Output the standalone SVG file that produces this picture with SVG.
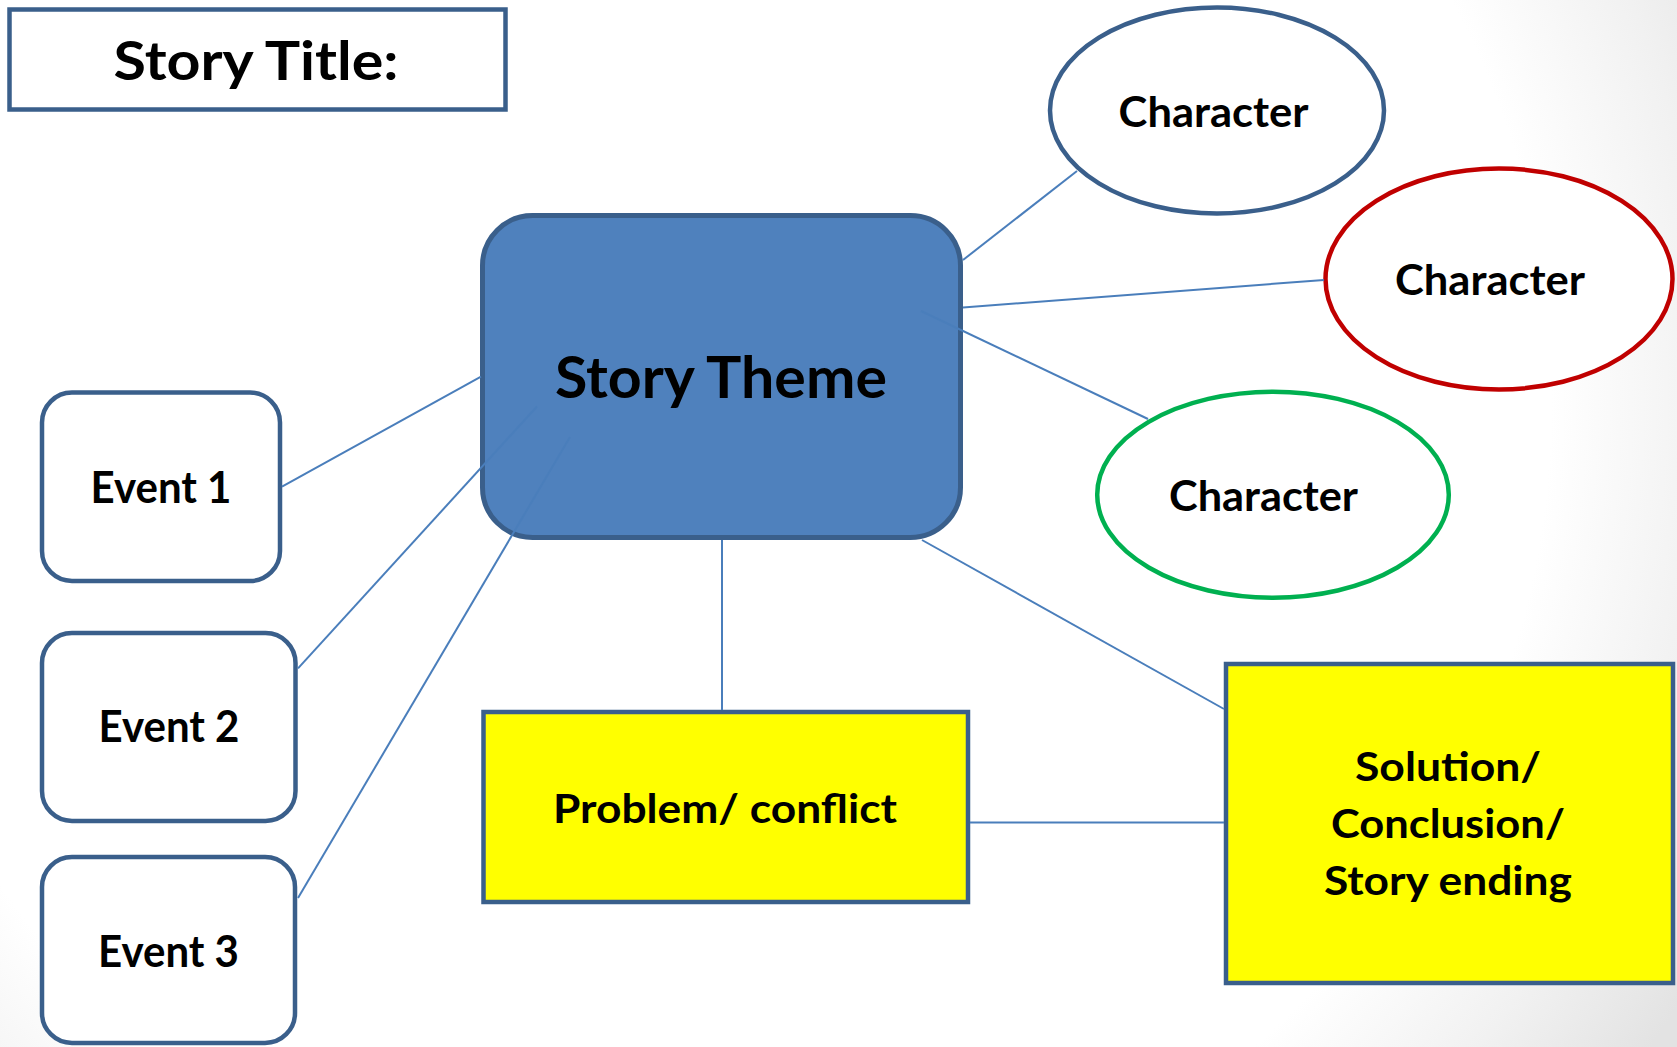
<svg xmlns="http://www.w3.org/2000/svg" width="1677" height="1047" viewBox="0 0 1677 1047">
<defs>
<radialGradient id="bg" gradientUnits="userSpaceOnUse" cx="700" cy="400" r="1150">
<stop offset="0" stop-color="#ffffff"/>
<stop offset="0.74" stop-color="#ffffff"/>
<stop offset="0.88" stop-color="#f1f1f1"/>
<stop offset="1" stop-color="#e3e3e3"/>
</radialGradient>
</defs>
<style>
.t{font-family:Lato,"Open Sans","Liberation Sans",sans-serif;font-weight:bold;fill:#000;text-anchor:middle}
.box{fill:#fff;stroke:#3A5F8B;stroke-width:4.5}
.yel{fill:#FFFF00;stroke:#3A5F8B;stroke-width:4.5}
.con{stroke:#4A7EBB;stroke-width:2;fill:none}
</style>
<rect width="1677" height="1047" fill="url(#bg)"/>
<g id="title">
<rect class="box" x="9.5" y="9.5" width="496" height="100" stroke-width="5"/>
<text class="t" x="256" y="80" font-size="53" textLength="285" lengthAdjust="spacingAndGlyphs">Story Title:</text>
</g>
<g id="theme">
<rect x="482.5" y="215.5" width="478" height="322" rx="50" fill="#4F81BD" stroke="#3A5F8B" stroke-width="5"/>
<text class="t" x="721" y="398" font-size="58" textLength="332" lengthAdjust="spacingAndGlyphs">Story Theme</text>
</g>
<g id="char1">
<ellipse class="box" cx="1217" cy="110.5" rx="167" ry="103"/>
<text class="t" x="1213.6" y="126.7" font-size="42" textLength="190" lengthAdjust="spacingAndGlyphs">Character</text>
</g>
<g id="char2">
<ellipse cx="1499" cy="279" rx="173.5" ry="110.5" fill="#fff" stroke="#C00000" stroke-width="4.5"/>
<text class="t" x="1490" y="295" font-size="42" textLength="190" lengthAdjust="spacingAndGlyphs">Character</text>
</g>
<g id="char3">
<ellipse cx="1273" cy="494.7" rx="175.8" ry="103" fill="#fff" stroke="#00B050" stroke-width="4.5"/>
<text class="t" x="1263.5" y="510.7" font-size="42" textLength="189" lengthAdjust="spacingAndGlyphs">Character</text>
</g>
<g id="event1">
<rect class="box" x="42" y="392.5" width="238" height="188.5" rx="30"/>
<text class="t" x="161" y="503" font-size="43" textLength="141" lengthAdjust="spacingAndGlyphs">Event 1</text>
</g>
<g id="event2">
<rect class="box" x="42" y="633" width="253.5" height="188" rx="30"/>
<text class="t" x="169" y="742.4" font-size="43" textLength="141" lengthAdjust="spacingAndGlyphs">Event 2</text>
</g>
<g id="event3">
<rect class="box" x="42" y="857" width="253" height="186" rx="30"/>
<text class="t" x="168.5" y="967" font-size="43" textLength="141" lengthAdjust="spacingAndGlyphs">Event 3</text>
</g>
<g id="problem">
<rect class="yel" x="483.5" y="712" width="484.5" height="190"/>
<text class="t" x="725" y="822.5" font-size="40" textLength="344" lengthAdjust="spacingAndGlyphs">Problem/ conflict</text>
</g>
<g id="solution">
<rect class="yel" x="1226" y="664" width="447" height="319"/>
<text class="t" x="1448" y="780.5" font-size="40" textLength="186" lengthAdjust="spacingAndGlyphs">Solution/</text>
<text class="t" x="1448" y="837.6" font-size="40" textLength="234" lengthAdjust="spacingAndGlyphs">Conclusion/</text>
<text class="t" x="1448" y="894.8" font-size="40" textLength="248" lengthAdjust="spacingAndGlyphs">Story ending</text>
</g>
<g id="connectors">
<line class="con" x1="963" y1="260" x2="1077" y2="171"/>
<line class="con" x1="963" y1="307.5" x2="1324" y2="280"/>
<line class="con" x1="921" y1="311" x2="1148" y2="419"/>
<line class="con" x1="922" y1="540" x2="1224" y2="709"/>
<line class="con" x1="722" y1="540" x2="722" y2="710"/>
<line class="con" x1="970" y1="822.5" x2="1224" y2="822.5"/>
<line class="con" x1="282" y1="486.6" x2="481" y2="376.5"/>
<line class="con" x1="298" y1="668.4" x2="537" y2="406.5"/>
<line class="con" x1="298" y1="898" x2="570" y2="437"/>
</g>
</svg>
